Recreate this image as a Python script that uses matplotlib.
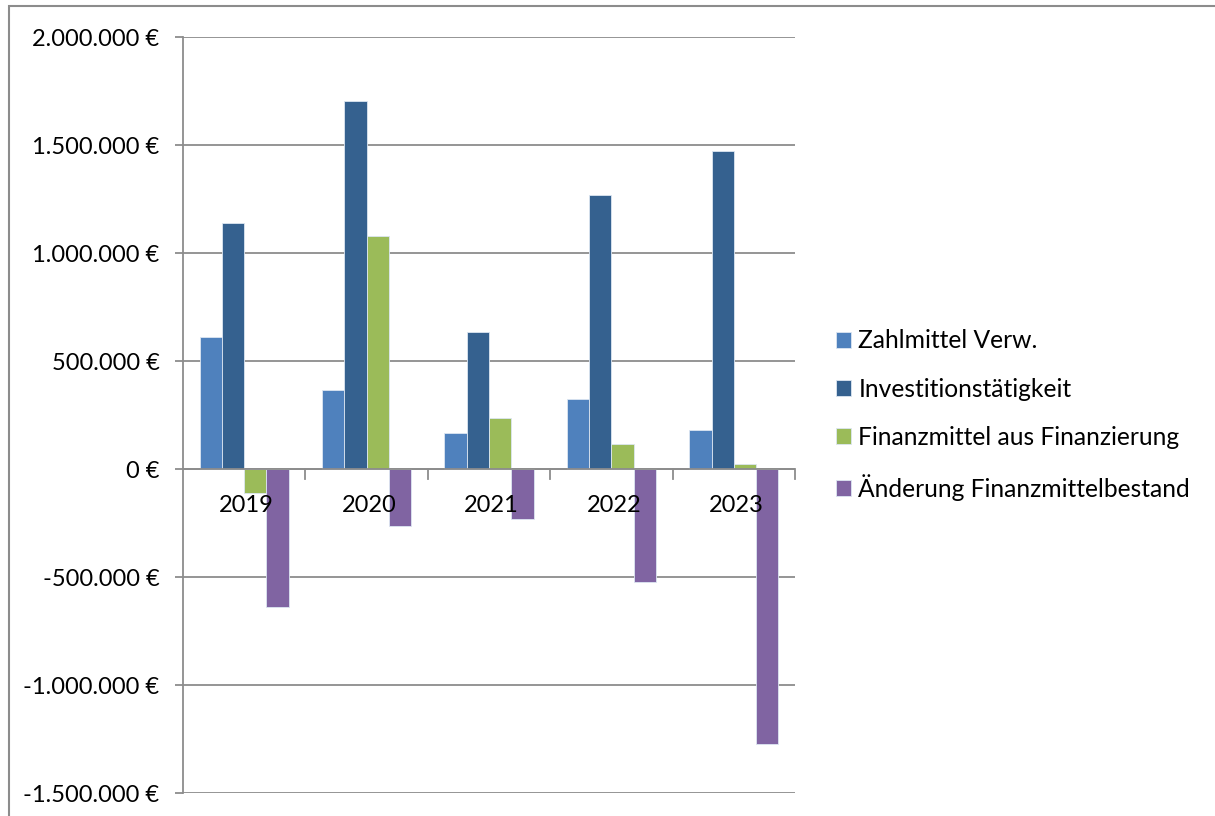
import numpy as np
import matplotlib.pyplot as plt
from matplotlib.patches import Rectangle
from matplotlib.ticker import FuncFormatter, FixedLocator

# Daten
jahre = ["2019", "2020", "2021", "2022", "2023"]
zahlmittel = [610000, 365000, 167000, 326000, 182000]
investition = [1140000, 1705000, 634000, 1267000, 1474000]
finanzierung = [-111000, 1077000, 238000, 118000, 22000]
aenderung = [-639000, -264000, -230000, -523000, -1271000]

serien = [
    ("Zahlmittel Verw.", zahlmittel, "#4f81bd"),
    ("Investitionstätigkeit", investition, "#35618f"),
    ("Finanzmittel aus Finanzierung", finanzierung, "#9bbb59"),
    ("Änderung Finanzmittelbestand", aenderung, "#8064a2"),
]

fig = plt.figure(figsize=(12.15, 8.16), dpi=100)
ax = fig.add_axes([183 / 1215, 1 - 793 / 816, (795 - 183) / 1215, (793 - 37) / 816])

x = np.arange(len(jahre))
w = 1 / 5.5
for i, (name, werte, farbe) in enumerate(serien):
    ax.bar(x + (i - 1.5) * w, werte, w, color=farbe, edgecolor="#dce6f2",
           linewidth=0.6, label=name, zorder=3)

ax.set_xlim(-0.5, len(jahre) - 0.5)
ax.set_ylim(-1500000, 2000000)
ax.set_yticks(np.arange(-1500000, 2000001, 500000))
ax.yaxis.set_major_formatter(FuncFormatter(lambda v, p: f"{v:,.0f}".replace(",", ".") + " €"))
ax.grid(axis="y", color="#8c8c8c", linewidth=1.3, zorder=0)

for s in ["top", "right", "bottom"]:
    ax.spines[s].set_visible(False)
ax.spines["left"].set_color("#8c8c8c")
ax.spines["left"].set_linewidth(1.3)

# Kategorieachse bei Null
ax.axhline(0, color="#8c8c8c", linewidth=1.3, zorder=4)
ax.xaxis.set_major_locator(FixedLocator(np.arange(0.5, len(jahre), 1)))
ax.set_xticklabels([])
ax.tick_params(axis="x", length=0)
for b in np.arange(0.5, len(jahre), 1):
    ax.plot([b, b], [0, -45000], color="#8c8c8c", linewidth=1.3, zorder=4, clip_on=False)
for xi, j in zip(x, jahre):
    ax.text(xi + 0.02, -200000, j, ha="center", va="baseline", fontsize=17,
            family="Lato", zorder=5)

ax.tick_params(axis="y", length=6, width=1.3, color="#8c8c8c", pad=11,
               labelsize=17, labelcolor="black")
for lbl in ax.get_yticklabels():
    lbl.set_family("Lato")

ax.legend(loc="center left", bbox_to_anchor=(826 / 1215, 1 - 415 / 816),
          bbox_transform=fig.transFigure, frameon=False, prop={"family": "Lato", "size": 17.7},
          handlelength=0.62, handleheight=0.62, handletextpad=0.3, labelspacing=1.02,
          borderaxespad=0)

fig.patches.append(Rectangle((9 / 1215, -0.1), 1.2, 0.1 + 1 - 6 / 816,
                             transform=fig.transFigure, fill=False,
                             edgecolor="#8c8c8c", linewidth=1.5))

fig.savefig("out.png", dpi=100)
